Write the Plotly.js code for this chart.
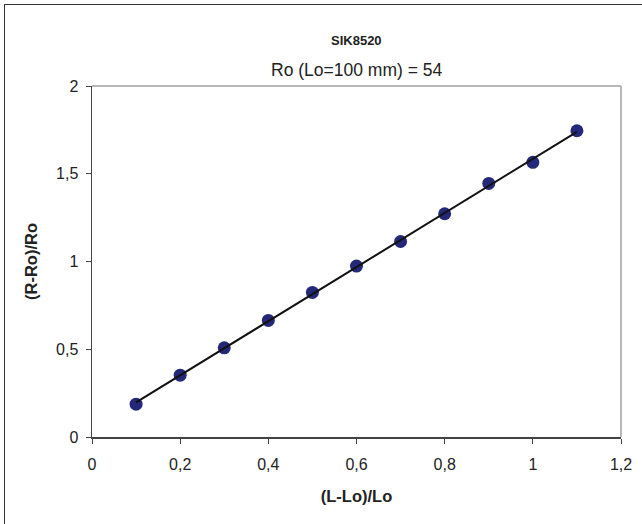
<!DOCTYPE html>
<html>
<head>
<meta charset="utf-8">
<script src="https://cdn.plot.ly/plotly-3.0.1.min.js"></script>
<style>
html,body{margin:0;padding:0;overflow:hidden;background:#fff;}
#wrap{position:relative;width:642px;height:524px;overflow:hidden;}
#chart{position:absolute;left:0;top:0;width:642px;height:524px;}
#frame{position:absolute;left:4px;top:4px;width:700px;height:600px;border:1.5px solid #333;pointer-events:none;}
</style>
</head>
<body>
<div id="wrap"><div id="chart"></div><div id="frame"></div></div>
<script>
const titleMain = "SIK8520";
const titleSub = "Ro (Lo=100 mm) = 54";
const xTitle = "(L-Lo)/Lo";
const yTitle = "(R-Ro)/Ro";
const strain = [0.1, 0.2, 0.3, 0.4, 0.5, 0.6, 0.7, 0.8, 0.9, 1.0, 1.1];
const resistance = [0.187, 0.352, 0.508, 0.664, 0.824, 0.974, 1.114, 1.272, 1.445, 1.565, 1.745];

// linear trendline (least squares) computed from the data
const n = strain.length;
const mx = strain.reduce((a,b)=>a+b,0)/n;
const my = resistance.reduce((a,b)=>a+b,0)/n;
let sxy=0, sxx=0;
for(let i=0;i<n;i++){sxy+=(strain[i]-mx)*(resistance[i]-my);sxx+=(strain[i]-mx)**2;}
const slope = sxy/sxx, icpt = my - slope*mx;
const trendX = [strain[0], strain[n-1]];
const trendY = trendX.map(x=>icpt+slope*x);

const font = "Liberation Sans, Arial, sans-serif";
const data = [
  {x: strain, y: resistance, type:'scatter', mode:'markers',
   marker:{color:'#232878', size:13}, hoverinfo:'skip'},
  {x: trendX, y: trendY, type:'scatter', mode:'lines',
   line:{color:'#111', width:2}, hoverinfo:'skip'}
];
const layout = {
  width:642, height:524,
  margin:{l:92, r:21, t:86, b:87},
  paper_bgcolor:'#fff', plot_bgcolor:'#fff',
  showlegend:false,
  separators:', ',
  font:{family:font, color:'#222', size:16},
  title:{text:'<b>'+titleMain+'</b>', font:{size:13, color:'#222'}, x:0.555, xanchor:'center', y:1-40/524, yanchor:'middle', yref:'container'},
  annotations:[{text:titleSub, xref:'paper', yref:'paper', x:0.5, y:1+(86-70)/351, yanchor:'middle', xanchor:'center', showarrow:false, font:{size:17.5, color:'#222', family:font}}],
  xaxis:{range:[0,1.2], dtick:0.2, tick0:0, showgrid:false, zeroline:false,
    showline:true, linecolor:'#444', linewidth:1.5, ticks:'outside', ticklen:5, tickcolor:'#444', tickwidth:1,
    ticklabelstandoff:7,
    tickfont:{size:16, color:'#222'},
    title:{text:'<b>'+xTitle+'</b>', font:{size:16.5, color:'#222'}, standoff:18}},
  yaxis:{range:[0,2], dtick:0.5, tick0:0, showgrid:false, zeroline:false,
    showline:true, linecolor:'#444', linewidth:1.5, ticks:'outside', ticklen:5, tickcolor:'#444', tickwidth:1,
    ticklabelstandoff:4,
    tickfont:{size:16, color:'#222'},
    title:{text:'<b>'+yTitle+'</b>', font:{size:16.5, color:'#222'}, standoff:14}},
  shapes:[
    {type:'line', xref:'paper', yref:'paper', x0:0, x1:1, y0:1, y1:1, line:{color:'#a0a0a0', width:1.5}},
    {type:'line', xref:'paper', yref:'paper', x0:1, x1:1, y0:0, y1:1, line:{color:'#a0a0a0', width:1.5}}
  ]
};
Plotly.newPlot('chart', data, layout, {staticPlot:true, displayModeBar:false});
</script>
</body>
</html>
